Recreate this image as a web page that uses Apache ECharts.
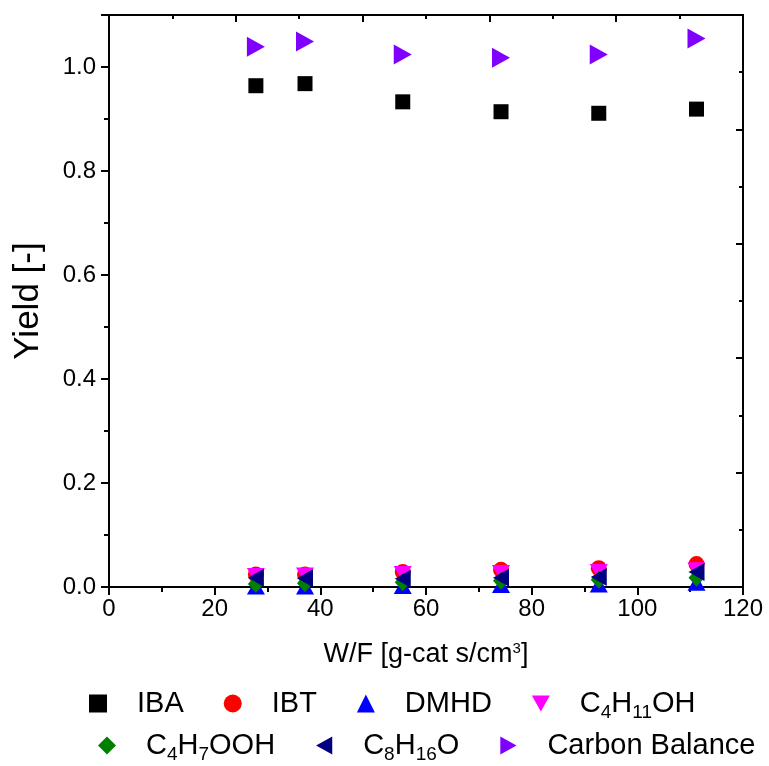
<!DOCTYPE html>
<html>
<head>
<meta charset="utf-8">
<script src="https://cdn.jsdelivr.net/npm/echarts@6/dist/echarts.min.js"></script>
<style>
  html, body { margin: 0; padding: 0; background: #fff; }
  #chart { width: 769px; height: 766px; }
</style>
</head>
<body>
<div id="chart"></div>
<script>
// W/F values [g-cat s/cm3]
var wf = [27.8, 37.1, 55.6, 74.2, 92.7, 111.2];

var iba = [0.964, 0.968, 0.933, 0.914, 0.911, 0.919];
var ibt = [0.024, 0.024, 0.029, 0.033, 0.036, 0.044];
var dmhd = [0.001, 0.001, 0.002, 0.004, 0.005, 0.008];
var c4h11oh = [0.021, 0.022, 0.025, 0.027, 0.029, 0.032];
var c4h7ooh = [0.006, 0.007, 0.009, 0.012, 0.014, 0.018];
var c8h16o = [0.018, 0.017, 0.016, 0.018, 0.019, 0.029];
var carbonBalance = [1.039, 1.049, 1.024, 1.018, 1.024, 1.055];

var row1 = ["IBA", "IBT", "DMHD", "C4H11OH"];
var row2 = ["C4H7OOH", "C8H16O", "Carbon Balance"];

var font = "Liberation Sans, Arial, sans-serif";

// legend icons (legend does not pick up symbolRotate everywhere)
var icons = {
    "IBA": "rect",
    "IBT": "circle",
    "DMHD": "triangle",
    "C4H11OH": "path://M0,0 L10,0 L5,9 Z",
    "C4H7OOH": "diamond",
    "C8H16O": "path://M9,0 L9,10 L0,5 Z",
    "Carbon Balance": "path://M0,0 L9,5 L0,10 Z"
};

function pts(ys) {
    return ys.map(function (y, i) { return [wf[i], y]; });
}

function sub(name) {
    return "{g|}" + name.replace(/([A-Za-z ]+)/g, "{t|$1}").replace(/(\d+)/g, "{s|$1}");
}

var legendRich = {
    g: { width: 25 },
    t: { fontSize: 29, fontFamily: font, color: "#000", lineHeight: 34 },
    s: { fontSize: 19, fontFamily: font, color: "#000", lineHeight: 38, verticalAlign: "bottom" }
};

function legendRow(data, left, top, gap) {
    return {
        data: data.map(function (n) { return { name: n, icon: icons[n] }; }),
        left: left,
        top: top,
        orient: "horizontal",
        itemWidth: 18,
        itemHeight: 18,
        itemGap: gap,
        formatter: sub,
        textStyle: { rich: legendRich }
    };
}

var tickLabel = { color: "#000", fontSize: 24, fontFamily: font };
var blackLine = { onZero: false, lineStyle: { color: "#000", width: 2 } };

var chart = echarts.init(document.getElementById("chart"));
chart.setOption({
    backgroundColor: "#fff",
    animation: false,
    grid: { left: 109, right: 26, top: 15, bottom: 179 },
    legend: [legendRow(row1, 84, 684, 40), legendRow(row2, 93, 726, 41)],
    xAxis: [{
        type: "value", position: "bottom", min: 0, max: 120, interval: 20,
        name: "W/F [g-cat s/cm{sup|3}]", nameLocation: "middle", nameGap: 54,
        nameTextStyle: {
            color: "#000", fontSize: 27, fontFamily: font,
            rich: { sup: { fontSize: 15, fontFamily: font, color: "#000", verticalAlign: "top" } }
        },
        axisLine: blackLine,
        axisTick: { inside: false, length: 8, lineStyle: { color: "#000", width: 2 } },
        minorTick: { show: true, splitNumber: 2, length: 5, lineStyle: { color: "#000", width: 2 } },
        axisLabel: Object.assign({ margin: 10 }, tickLabel), splitLine: { show: false }
    }, {
        type: "value", position: "top", min: 0, max: 5, interval: 1,
        axisLine: blackLine,
        axisTick: { inside: true, length: 7, lineStyle: { color: "#000", width: 2 } },
        minorTick: { show: true, splitNumber: 2, length: 4, lineStyle: { color: "#000", width: 2 } },
        axisLabel: { show: false }, splitLine: { show: false }
    }],
    yAxis: [{
        type: "value", position: "left", min: 0, max: 1.1, interval: 0.2,
        name: "Yield [-]", nameLocation: "middle", nameGap: 63,
        nameTextStyle: { color: "#000", fontSize: 35, fontFamily: font },
        axisLine: blackLine,
        axisTick: { inside: false, length: 8, lineStyle: { color: "#000", width: 2 } },
        minorTick: { show: true, splitNumber: 2, length: 5, lineStyle: { color: "#000", width: 2 } },
        axisLabel: Object.assign({ margin: 13, showMaxLabel: false, formatter: function (v) { return v.toFixed(1); } }, tickLabel),
        splitLine: { show: false }
    }, {
        type: "value", position: "right", min: 0, max: 5, interval: 1,
        axisLine: blackLine,
        axisTick: { inside: true, length: 7, lineStyle: { color: "#000", width: 2 } },
        minorTick: { show: true, splitNumber: 2, length: 4, lineStyle: { color: "#000", width: 2 } },
        axisLabel: { show: false }, splitLine: { show: false }
    }],
    series: [
        { name: "IBA", type: "scatter", data: pts(iba), symbol: "rect", symbolSize: 15, itemStyle: { color: "#000", opacity: 1 } },
        { name: "IBT", type: "scatter", data: pts(ibt), symbol: "circle", symbolSize: 16, itemStyle: { color: "#ff0000", opacity: 1 } },
        { name: "DMHD", type: "scatter", data: pts(dmhd), symbol: "triangle", symbolSize: [18, 16], itemStyle: { color: "#0000ff", opacity: 1 } },
        { name: "C4H11OH", type: "scatter", data: pts(c4h11oh), symbol: "triangle", symbolRotate: 180, symbolSize: [18, 16], itemStyle: { color: "#ff00ff", opacity: 1 } },
        { name: "C4H7OOH", type: "scatter", data: pts(c4h7ooh), symbol: "diamond", symbolSize: [16, 18], itemStyle: { color: "#008000", opacity: 1 } },
        { name: "C8H16O", type: "scatter", data: pts(c8h16o), symbol: "triangle", symbolRotate: 90, symbolSize: [18, 16], itemStyle: { color: "#000080", opacity: 1 } },
        { name: "Carbon Balance", type: "scatter", data: pts(carbonBalance), symbol: "triangle", symbolRotate: -90, symbolSize: [20, 18], itemStyle: { color: "#8000ff", opacity: 1 } }
    ]
});
</script>
</body>
</html>
